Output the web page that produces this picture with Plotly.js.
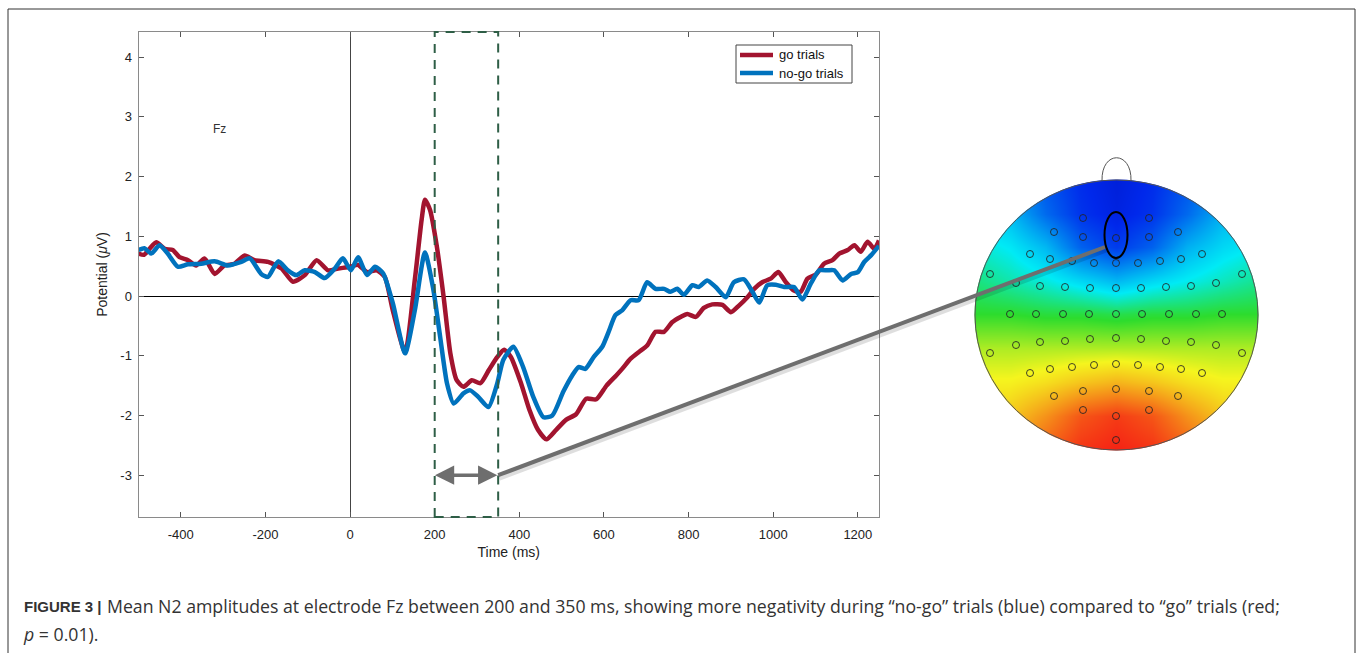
<!DOCTYPE html>
<html><head><meta charset="utf-8">
<script src="https://cdn.plot.ly/plotly-3.0.1.min.js"></script>
<style>html,body{margin:0;padding:0;background:#fff;}#chart{width:1357px;height:653px;}</style>
</head><body><div id="chart"></div>
<script>
// ---------------- data ----------------
const timeGo = [-500,-487,-474,-458,-438,-419,-403,-383,-364,-344,-320,-297,-273,-249,-226,-194,-162,-135,-107,-79,-52,-28,0,19,40,63,82,101,130,153,169,177,189,205,221,237,252,268,288,308,328,348,364,380,404,424,444,464,487,511,534,558,582,606,629,643,663,682,702,722,742,761,781,797,817,836,856,880,900,919,939,955,974,994,1012,1030,1049,1065,1081,1101,1120,1140,1156,1176,1192,1207,1223,1239,1250];
const goTrials = [0.71,0.69,0.79,0.90,0.79,0.77,0.65,0.60,0.51,0.63,0.37,0.51,0.54,0.68,0.60,0.57,0.46,0.24,0.35,0.60,0.43,0.46,0.49,0.52,0.40,0.43,0.32,-0.24,-0.94,0.27,1.27,1.61,1.44,0.83,-0.01,-0.96,-1.41,-1.52,-1.41,-1.46,-1.24,-1.02,-0.90,-1.02,-1.46,-1.91,-2.24,-2.40,-2.24,-2.07,-1.98,-1.72,-1.73,-1.50,-1.33,-1.22,-1.05,-0.94,-0.83,-0.60,-0.60,-0.44,-0.35,-0.30,-0.35,-0.20,-0.14,-0.15,-0.27,-0.16,-0.02,0.12,0.23,0.29,0.40,0.23,0.09,0.07,0.29,0.36,0.54,0.60,0.71,0.77,0.85,0.74,0.91,0.79,0.93];
const timeNoGo = [-500,-486,-470,-450,-431,-407,-383,-352,-320,-289,-257,-237,-210,-194,-170,-147,-127,-107,-83,-60,-36,-17,2,19,40,59,78,101,130,153,177,196,213,229,245,268,284,303,327,348,362,386,409,433,457,478,504,525,540,556,576,596,611,627,643,663,682,702,722,742,757,773,789,809,824,844,864,888,907,931,951,967,986,1006,1026,1049,1069,1089,1109,1128,1144,1164,1184,1200,1215,1231,1250];
const noGoTrials = [0.77,0.80,0.71,0.85,0.71,0.49,0.53,0.54,0.58,0.51,0.57,0.63,0.37,0.32,0.58,0.43,0.35,0.43,0.40,0.30,0.46,0.63,0.43,0.65,0.35,0.49,0.38,-0.12,-0.96,-0.24,0.73,0.14,-0.69,-1.46,-1.80,-1.63,-1.58,-1.69,-1.86,-1.46,-1.07,-0.85,-1.19,-1.69,-2.03,-2.00,-1.60,-1.33,-1.19,-1.22,-1.02,-0.85,-0.60,-0.32,-0.24,-0.07,-0.07,0.23,0.12,0.12,0.07,0.12,0.02,0.18,0.15,0.26,0.15,-0.02,0.23,0.28,0.07,-0.11,0.18,0.19,0.15,0.15,-0.06,0.21,0.43,0.43,0.43,0.26,0.37,0.40,0.57,0.68,0.84];
const seriesNames = ['go trials','no-go trials'];
const seriesColors = ['#A2142F','#0072BD'];
const xTickVals = [-400,-200,0,200,400,600,800,1000,1200];
const xTickText = ['-400','-200','0','200','400','600','800','1000','1200'];
const yTickVals = [-3,-2,-1,0,1,2,3,4];
const yTickText = ['-3','-2','-1','0','1','2','3','4'];
const windowMs = [200, 350];
const arrowMs = [197, 348];
const arrowUv = -3;
const electrodeName = 'Fz';
const electrodeLabelAt = [-308, 2.80];
// topographic map (screen-pixel grid, colormap position 0..1)
const topoX = [975,1010,1045,1080,1116,1152,1187,1222,1258];
const topoY = [180,214,247,281,314,348,382,416,450];
const topoZ = [
  [0.28,0.24,0.18,0.13,0.10,0.13,0.18,0.24,0.28],
  [0.35,0.31,0.21,0.14,0.11,0.14,0.21,0.30,0.33],
  [0.40,0.37,0.31,0.20,0.15,0.20,0.30,0.35,0.38],
  [0.45,0.42,0.39,0.35,0.31,0.35,0.38,0.41,0.44],
  [0.50,0.50,0.49,0.49,0.48,0.49,0.49,0.50,0.50],
  [0.58,0.58,0.58,0.58,0.58,0.58,0.58,0.58,0.58],
  [0.63,0.63,0.65,0.68,0.70,0.68,0.65,0.63,0.63],
  [0.66,0.68,0.74,0.81,0.84,0.81,0.74,0.68,0.66],
  [0.70,0.74,0.80,0.85,0.87,0.85,0.80,0.74,0.70]
];
const electrodeX = [1083,1149, 1054,1083,1116,1149,1178, 1030,1050,1072,1094,1116,1138,1160,1181,1202, 990,1016,1040,1065,1090,1116,1141,1166,1191,1216,1242, 1010,1036,1063,1089,1116,1142,1169,1196,1222, 990,1016,1040,1065,1090,1116,1141,1166,1191,1216,1242, 1030,1050,1072,1094,1116,1138,1160,1181,1202, 1054,1083,1116,1149,1178, 1083,1116,1149, 1116];
const electrodeY = [218,218, 232,237,238,237,232, 254,259,261,263,263,263,261,259,254, 274,283,286,287,288,288,288,287,286,283,274, 314,314,314,314,314,314,314,314,314, 353,345,342,341,339,338,339,341,342,345,353, 373,369,367,365,364,365,367,369,373, 396,391,389,391,396, 410,416,410, 440];
const fzElectrode = [1116, 235];
const captionLabel = 'FIGURE 3 |';
const captionLine1 = 'Mean N2 amplitudes at electrode Fz between 200 and 350 ms, showing more negativity during “no-go” trials (blue) compared to “go” trials (red;';
const captionLine2 = '<i>p</i> = 0.01).';

// ---------------- geometry ----------------
const W = 1357, H = 653;
const plotL = 138.5, plotR = 879, plotT = 32, plotB = 517;
const xRange = [-500, 1250], yRange = [-3.70, 4.42];
function toPx(t, v){
  return [plotL + (t - xRange[0])/(xRange[1]-xRange[0])*(plotR-plotL),
          plotB - (v - yRange[0])/(yRange[1]-yRange[0])*(plotB-plotT)];
}
const head = {cx:1116.5, cy:315, rx:141.5, ry:135};
function ellipsePath(cx,cy,rx,ry){
  const k=0.5523;
  return `M${cx},${cy-ry} C${cx-k*rx},${cy-ry} ${cx-rx},${cy-k*ry} ${cx-rx},${cy} `+
         `C${cx-rx},${cy+k*ry} ${cx-k*rx},${cy+ry} ${cx},${cy+ry} `+
         `C${cx+k*rx},${cy+ry} ${cx+rx},${cy+k*ry} ${cx+rx},${cy} `+
         `C${cx+rx},${cy-k*ry} ${cx+k*rx},${cy-ry} ${cx},${cy-ry} Z`;
}
const maskPath = `M930,140 L1300,140 L1300,480 L930,480 Z ` + ellipsePath(head.cx, head.cy, head.rx+0.5, head.ry+0.5);
const connStart = toPx(arrowMs[1]+2, arrowUv);
const connEnd = [fzElectrode[0]-11, fzElectrode[1]+12];

const FONT = 'Liberation Sans, Arial, Helvetica, sans-serif';
const CAPFONT = 'Open Sans, Liberation Sans, Arial, sans-serif';
const jet = [[0,'rgb(0,0,150)'],[0.125,'rgb(0,40,235)'],[0.375,'rgb(0,235,245)'],[0.5,'rgb(45,220,45)'],[0.625,'rgb(245,245,30)'],[0.875,'rgb(245,30,20)'],[1,'rgb(140,0,0)']];

const traces = [
  {type:'scatter', mode:'lines', x:timeGo, y:goTrials, name:seriesNames[0], xaxis:'x', yaxis:'y',
   line:{color:seriesColors[0], width:4.5, shape:'spline', smoothing:0.6}, hoverinfo:'skip', showlegend:false},
  {type:'scatter', mode:'lines', x:timeNoGo, y:noGoTrials, name:seriesNames[1], xaxis:'x', yaxis:'y',
   line:{color:seriesColors[1], width:4.5, shape:'spline', smoothing:0.6}, hoverinfo:'skip', showlegend:false},
  {type:'heatmap', x:topoX, y:topoY, z:topoZ, xaxis:'x2', yaxis:'y2', colorscale:jet, zmin:0, zmax:1,
   zsmooth:'best', showscale:false, hoverinfo:'skip', showlegend:false},
  {type:'scatter', mode:'markers', x:electrodeX, y:electrodeY, xaxis:'x2', yaxis:'y2', showlegend:false, hoverinfo:'skip',
   marker:{symbol:'circle-open', size:7, color:'rgba(35,35,35,0.85)', line:{width:1}}}
];

const axisCommon = {showgrid:false, ticks:'inside', ticklen:5, tickcolor:'#555', tickwidth:1,
  showline:true, linecolor:'#8a8a8a', linewidth:1, mirror:'ticks', tickfont:{family:FONT, size:13, color:'#222'},
  fixedrange:true};

// custom legend (box, line samples, labels)
const leg = {x0:736, x1:852, y0:45, y1:83, lineX0:740, lineX1:773, textX:777, rowY:[55,73]};
const legendShapes = [{type:'rect', xref:'paper', yref:'paper', x0:leg.x0/W, x1:leg.x1/W, y0:1-leg.y1/H, y1:1-leg.y0/H,
  line:{color:'#444', width:1}, fillcolor:'#fff', layer:'above'}];
const legendAnns = [];
seriesNames.forEach((nm,i)=>{
  legendShapes.push({type:'line', xref:'paper', yref:'paper', x0:leg.lineX0/W, x1:leg.lineX1/W, y0:1-leg.rowY[i]/H, y1:1-leg.rowY[i]/H,
    line:{color:seriesColors[i], width:4.5}, layer:'above'});
  legendAnns.push({x:leg.textX/W, y:1-leg.rowY[i]/H, xref:'paper', yref:'paper', xanchor:'left', yanchor:'middle',
    showarrow:false, text:nm, font:{family:FONT, size:13, color:'#111'}});
});

const layout = {
  width:W, height:H, margin:{l:0,r:0,t:0,b:0}, paper_bgcolor:'#fff', plot_bgcolor:'rgba(0,0,0,0)',
  font:{family:FONT, color:'#222'}, showlegend:false,
  xaxis:Object.assign({}, axisCommon, {domain:[plotL/W, plotR/W], range:xRange, anchor:'y',
    tickmode:'array', tickvals:xTickVals, ticktext:xTickText, ticklabelstandoff:5,
    zeroline:true, zerolinecolor:'#444', zerolinewidth:1,
    title:{text:'Time (ms)', font:{family:FONT, size:14, color:'#222'}, standoff:6}}),
  yaxis:Object.assign({}, axisCommon, {domain:[1-plotB/H, 1-plotT/H], range:yRange, anchor:'x',
    tickmode:'array', tickvals:yTickVals, ticktext:yTickText, ticklabelstandoff:3,
    zeroline:true, zerolinecolor:'#000', zerolinewidth:1,
    title:{text:'Potential (<i>μ</i>V)', font:{family:FONT, size:14, color:'#222'}, standoff:9}}),
  xaxis2:{domain:[0,1], range:[0,W], anchor:'y2', visible:false, fixedrange:true},
  yaxis2:{domain:[0,1], range:[H,0], anchor:'x2', visible:false, fixedrange:true},
  shapes:[
    {type:'rect', xref:'x', yref:'y domain', x0:windowMs[0], x1:windowMs[1], y0:0, y1:1,
     line:{color:'#2E5E46', width:2, dash:'9px,7px'}, fillcolor:'rgba(0,0,0,0)', layer:'above'},
    {type:'path', xref:'x2', yref:'y2', path:maskPath, fillcolor:'#fff', line:{width:0}, layer:'above'},
    {type:'circle', xref:'x2', yref:'y2', x0:head.cx-head.rx, x1:head.cx+head.rx, y0:head.cy-head.ry, y1:head.cy+head.ry,
     line:{color:'#555', width:1}, layer:'above'},
    {type:'path', xref:'x2', yref:'y2', path:`M1102,${head.cy-head.ry+1} C1101,150 1132,150 1131,${head.cy-head.ry+1}`,
     line:{color:'#555', width:1}, layer:'above'},
    {type:'line', xref:'x2', yref:'y2', x0:connStart[0]+1, y0:connStart[1]+2.5, x1:connEnd[0]+1, y1:connEnd[1]+2.5,
     line:{color:'rgba(0,0,0,0.13)', width:6}, layer:'above'},
    {type:'line', xref:'x2', yref:'y2', x0:connStart[0], y0:connStart[1], x1:connEnd[0], y1:connEnd[1],
     line:{color:'#6e6e6e', width:4}, layer:'above'},
    {type:'circle', xref:'x2', yref:'y2', x0:fzElectrode[0]-11.5, x1:fzElectrode[0]+11.5, y0:fzElectrode[1]-23, y1:fzElectrode[1]+23,
     line:{color:'#000', width:2}, layer:'above'},
    {type:'rect', xref:'paper', yref:'paper', x0:8/W, x1:1355/W, y0:-0.02, y1:1-9/H,
     line:{color:'#333', width:1}, fillcolor:'rgba(0,0,0,0)', layer:'above'}
  ].concat(legendShapes),
  annotations:[
    {x:arrowMs[1], y:arrowUv, ax:arrowMs[0], ay:arrowUv, xref:'x', yref:'y', axref:'x', ayref:'y',
     text:'', showarrow:true, arrowside:'end+start', arrowhead:2, arrowsize:1.1, arrowwidth:3.5, arrowcolor:'#6e6e6e'},
    {x:electrodeLabelAt[0], y:electrodeLabelAt[1], xref:'x', yref:'y', text:electrodeName, showarrow:false,
     font:{family:FONT, size:12, color:'#333'}},
    {x:22/W, y:1-606/H, xref:'paper', yref:'paper', xanchor:'left', yanchor:'middle', showarrow:false,
     text:'<b>'+captionLabel+'</b>', font:{family:FONT, size:15, color:'#333'}},
    {x:105/W, y:1-606/H, xref:'paper', yref:'paper', xanchor:'left', yanchor:'middle', showarrow:false,
     text:captionLine1, font:{family:CAPFONT, size:17.7, color:'#333'}},
    {x:21/W, y:1-634/H, xref:'paper', yref:'paper', xanchor:'left', yanchor:'middle', showarrow:false,
     text:captionLine2, font:{family:CAPFONT, size:17.7, color:'#333'}}
  ].concat(legendAnns)
};
Plotly.newPlot('chart', traces, layout, {displayModeBar:false, staticPlot:true});
</script></body></html>
